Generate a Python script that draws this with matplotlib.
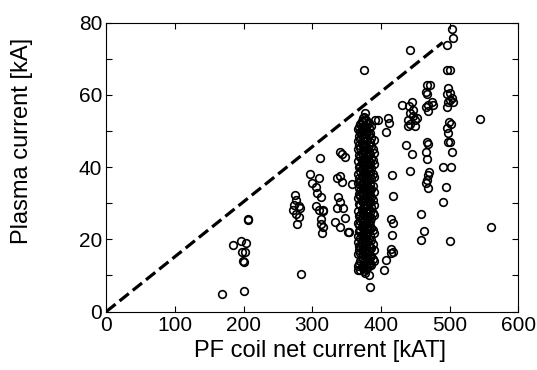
import matplotlib
matplotlib.use("Agg")
import matplotlib.pyplot as plt

plt.rcParams["font.family"] = ["Liberation Sans", "DejaVu Sans"]

# scattered shots outside the main column: (PF coil net current [kAT], plasma current [kA])
x_scatter = [
    169, 200, 184, 196, 203, 197, 202, 199, 201, 206, 207,
    283, 275, 277, 274, 280, 272, 282, 277, 281, 278,
    296, 300, 310, 306, 307, 312, 306, 310, 316, 315, 312, 315, 312, 311, 314,
    341, 344, 348, 336, 341, 344, 338, 341, 336, 345, 348, 333, 341, 352, 358, 353,
    376, 377, 384, 382, 377, 367,
    392, 396, 411, 412, 408,
    418, 415, 418, 416, 415, 418, 414, 408, 404, 416,
    431, 443, 446, 441, 447, 443, 447, 440, 450, 443, 450, 439, 453,
    437, 445, 443, 459, 463, 459,
    467, 472, 465, 467, 469, 475, 476, 465, 469,
    465, 467, 469, 467, 469, 467, 465, 470, 469,
    497, 501, 498, 497, 501, 504, 498, 505, 497, 501,
    499, 502, 497, 498, 501, 498, 504, 491, 502, 495, 491, 501, 497, 504, 505,
    545, 561,
]
y_scatter = [
    4.8, 5.6, 18.3, 19.6, 19.0, 16.5, 16.5, 13.9, 13.7, 25.5, 25.4,
    10.5, 32.4, 31.0, 29.6, 29.1, 28.2, 28.8, 26.9, 26.3, 24.1,
    38.2, 35.7, 37.1, 34.6, 32.9, 31.6, 29.1, 28.2, 28.0, 27.7, 24.1, 23.3, 25.7, 42.6, 21.8,
    44.3, 43.5, 42.9, 37.1, 37.4, 36.0, 31.6, 30.4, 28.8, 28.8, 26.0, 24.9, 23.3, 22.1, 35.2, 22.0,
    67.0, 55.0, 6.9, 10.2, 10.8, 11.6,
    53.1, 52.9, 53.7, 52.3, 49.8,
    32.1, 25.5, 24.6, 21.3, 17.2, 16.6, 16.3, 14.4, 11.6, 37.9,
    57.3, 72.5, 57.9, 56.8, 55.9, 55.1, 54.0, 53.1, 53.1, 51.8, 51.5, 51.5, 53.7,
    46.2, 43.7, 39.0, 26.9, 22.4, 19.9,
    62.8, 62.8, 60.9, 60.1, 57.3, 57.9, 57.3, 56.5, 55.4,
    44.3, 46.8, 46.5, 42.3, 37.9, 36.5, 35.7, 38.5, 34.1,
    67.0, 67.0, 62.0, 60.1, 60.6, 59.2, 58.1, 58.1, 56.5, 58.7,
    52.6, 51.8, 50.9, 49.5, 46.8, 46.8, 44.3, 40.1, 40.1, 34.6, 30.4, 19.4, 73.9, 78.3, 75.8,
    53.4, 23.3,
]

# the dense column of shots near 375-390 kAT, one list of plasma currents per coil current
column_x = [366, 368, 370, 372, 374, 376, 378, 380, 382, 384, 386, 388, 390]
column_y = [
    [12.5, 15.8, 19.2, 21.0, 24.4, 27.9, 31.3, 35.6, 38.2, 41.7, 44.9, 47.3, 50.6],
    [13.1, 16.9, 18.2, 22.4, 23.9, 26.5, 29.8, 32.6, 34.1, 37.0, 39.9, 43.3, 46.1,
     48.7, 51.2],
    [11.4, 13.9, 16.2, 17.8, 20.3, 22.6, 25.1, 26.8, 29.4, 31.9, 33.5, 36.1, 38.8,
     40.2, 42.9, 45.3, 47.8, 49.6, 51.8],
    [12.3, 15.0, 17.1, 19.0, 21.2, 23.4, 25.9, 28.1, 30.7, 32.9, 35.3, 37.4, 39.5,
     41.3, 43.8, 46.4, 48.9, 50.8, 52.7],
    [12.1, 14.6, 15.9, 18.4, 19.7, 21.5, 23.8, 24.9, 27.2, 28.6, 30.5, 32.4, 34.3,
     35.2, 37.6, 39.1, 41.4, 43.2, 44.6, 46.5, 48.3, 50.1, 52.4, 53.6],
    [11.2, 13.6, 16.4, 18.0, 20.6, 22.3, 24.1, 26.6, 28.9, 31.0, 33.7, 35.9, 38.0,
     40.4, 42.4, 44.2, 45.9, 47.7, 49.4, 51.5, 53.9],
    [11.8, 13.2, 15.1, 17.3, 18.9, 20.8, 22.1, 24.3, 26.1, 27.7, 29.9, 31.2, 33.0,
     34.8, 36.7, 38.3, 40.6, 42.1, 43.9, 45.7, 47.1, 49.2, 51.0, 52.9],
    [12.4, 14.8, 16.0, 19.4, 21.6, 23.1, 25.5, 27.4, 29.2, 31.8, 34.5, 35.8, 37.3,
     39.4, 41.1, 43.0, 44.9, 47.5, 49.9, 52.0],
    [12.7, 14.2, 16.8, 18.5, 20.0, 22.9, 24.6, 26.4, 28.3, 30.1, 32.7, 34.0, 36.4,
     37.9, 40.0, 41.8, 44.2, 46.0, 48.8, 50.7, 52.2],
    [13.4, 15.2, 17.9, 21.1, 23.6, 25.2, 27.6, 30.4, 32.2, 35.1, 38.6, 41.0, 43.5,
     47.0, 49.3],
    [13.0, 15.5, 17.6, 19.9, 23.2, 25.8, 28.9, 31.6, 33.8, 36.9, 39.6, 42.5, 45.8,
     48.1, 51.4],
    [14.6, 18.8, 22.5, 27.3, 30.8, 34.7, 38.1, 42.0, 45.1],
    [14.0, 17.0, 21.7, 26.6, 29.5, 33.2, 37.2, 40.8, 44.0, 47.6],
]

# limit line
limit_x = [0, 490]
limit_y = [0, 74.5]

fig = plt.figure(figsize=(5.37, 3.70), dpi=100)
ax = fig.add_axes([0.198, 0.158, 0.767, 0.781])

ax.plot(limit_x, limit_y, "k--", lw=2.3, zorder=1)

xs = list(x_scatter)
ys = list(y_scatter)
for cx, cys in zip(column_x, column_y):
    xs += [cx] * len(cys)
    ys += cys
ax.plot(xs, ys, "o", mfc="none", mec="k", ms=5.5, mew=1.2, zorder=2)

ax.set_xlim(0, 600)
ax.set_ylim(0, 80)
ax.set_xticks(range(0, 601, 100))
ax.set_yticks(range(0, 81, 10))
ax.set_yticklabels([str(v) if v % 20 == 0 else "" for v in range(0, 81, 10)])
ax.tick_params(direction="in", top=True, right=True, length=4, width=0.8,
               labelsize=15, pad=3)
for s in ax.spines.values():
    s.set_linewidth(0.8)

ax.set_xlabel("PF coil net current [kAT]", fontsize=17)
ax.set_ylabel("Plasma current [kA]", fontsize=17)
ax.xaxis.set_label_coords(0.519, -0.100)
ax.yaxis.set_label_coords(-0.177, 0.592)

fig.savefig("out.png", dpi=100)
